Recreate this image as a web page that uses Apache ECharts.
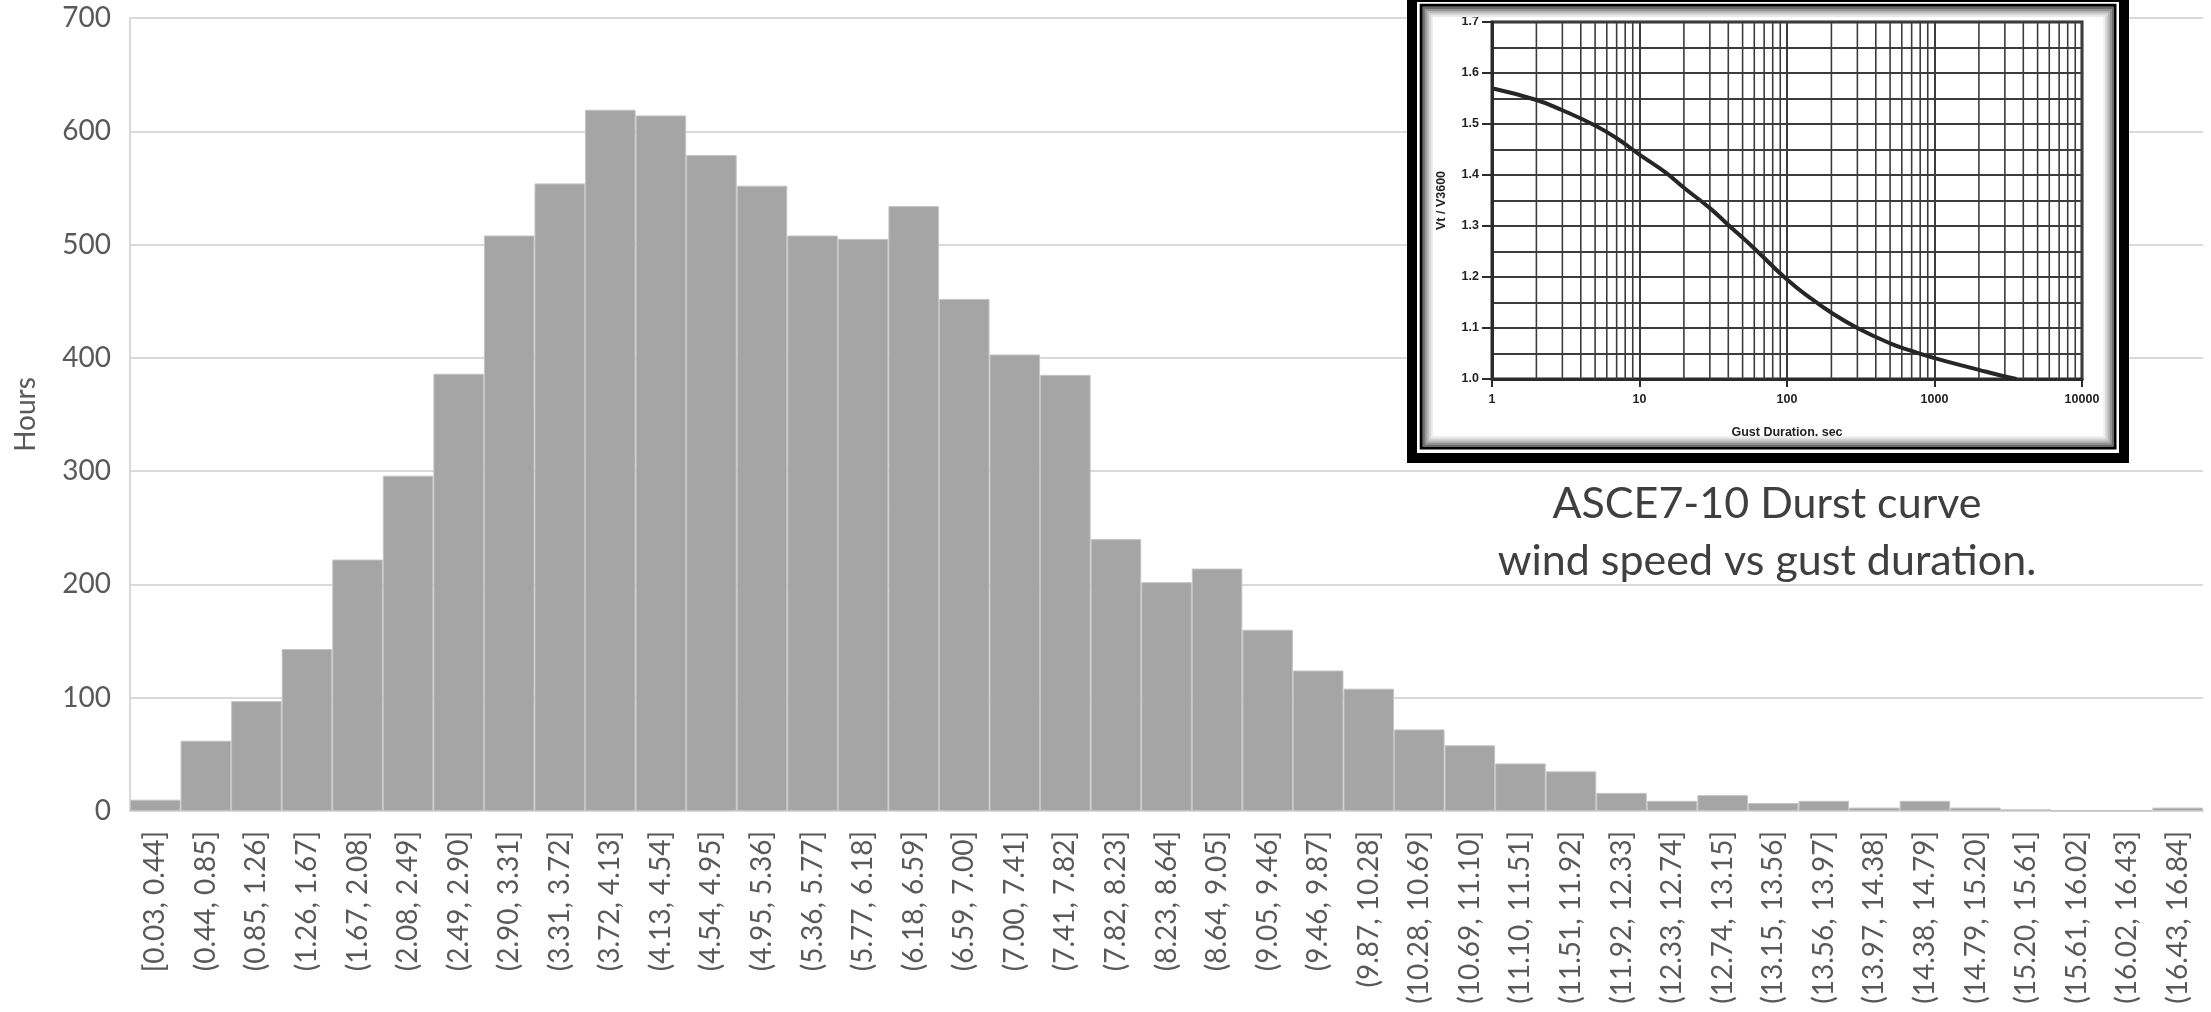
<!DOCTYPE html>
<html>
<head>
<meta charset="utf-8">
<script src="https://cdn.jsdelivr.net/npm/echarts@6/dist/echarts.min.js"></script>
<style>
html,body{margin:0;padding:0;background:#fff;}
#chart{width:2211px;height:1012px;}
</style>
</head>
<body>
<div id="chart"></div>
<script>
// ---- main histogram data ----
const categories = [
  '[0.03, 0.44]','(0.44, 0.85]','(0.85, 1.26]','(1.26, 1.67]','(1.67, 2.08]','(2.08, 2.49]',
  '(2.49, 2.90]','(2.90, 3.31]','(3.31, 3.72]','(3.72, 4.13]','(4.13, 4.54]','(4.54, 4.95]',
  '(4.95, 5.36]','(5.36, 5.77]','(5.77, 6.18]','(6.18, 6.59]','(6.59, 7.00]','(7.00, 7.41]',
  '(7.41, 7.82]','(7.82, 8.23]','(8.23, 8.64]','(8.64, 9.05]','(9.05, 9.46]','(9.46, 9.87]',
  '(9.87, 10.28]','(10.28, 10.69]','(10.69, 11.10]','(11.10, 11.51]','(11.51, 11.92]','(11.92, 12.33]',
  '(12.33, 12.74]','(12.74, 13.15]','(13.15, 13.56]','(13.56, 13.97]','(13.97, 14.38]','(14.38, 14.79]',
  '(14.79, 15.20]','(15.20, 15.61]','(15.61, 16.02]','(16.02, 16.43]','(16.43, 16.84]'
];
const hours = [
  10, 62, 97, 143, 222, 296, 386, 508, 554, 619, 614, 579,
  552, 508, 505, 534, 452, 403, 385, 240, 202, 214, 160, 124,
  108, 72, 58, 42, 35, 16, 9, 14, 7, 9, 3, 9,
  3, 1.5, 0.4, 0.4, 3
];
const hourTicks = [0, 100, 200, 300, 400, 500, 600, 700];

// ---- inset (Durst curve) data ----
const gustSeconds = [1, 2, 3, 5, 7, 10, 15, 20, 30, 40, 60, 100, 150, 200, 300, 500, 700, 1000, 2000, 3000, 3600];
const speedRatio  = [1.570, 1.547, 1.527, 1.497, 1.472, 1.440, 1.405, 1.375, 1.335, 1.302, 1.256, 1.195, 1.155, 1.130, 1.100, 1.070, 1.055, 1.041, 1.018, 1.005, 1.000];
const gustTicks = [1, 10, 100, 1000, 10000];
const ratioTicks = [1.0, 1.1, 1.2, 1.3, 1.4, 1.5, 1.6, 1.7];
const gustMinorLines = [
  2,3,4,5,6,7,8,9,
  20,30,40,50,60,70,80,90,
  200,300,400,500,600,700,800,900,
  2000,3000,4000,5000,6000,7000,8000,9000
];

const GRAY_TXT = '#595959';
const GRID_C = '#d9d9d9';
const INK = '#2b2b2b';
const insetFont = 'Liberation Sans';

const chart = echarts.init(document.getElementById('chart'), null, {renderer: 'canvas'});

// vertical minor grid segments of the inset, broken by empty points
const minorSegs = [];
gustMinorLines.forEach(v => {
  minorSegs.push([v, ratioTicks[0]], [v, ratioTicks[ratioTicks.length - 1]], [v, null]);
});

// frame geometry (decoration)
const fx0 = 1407, fx1 = 2129, fy0 = -8, fy1 = 463;
const shade = ['#6a6a6a', '#939393', '#b5b5b5', '#d2d2d2', '#ebebeb'];
const graphics = [
  {type: 'rect', z: 5, shape: {x: fx0, y: 0, width: fx1 - fx0, height: fy1}, style: {fill: '#fff'}},
  {type: 'rect', z: 30, shape: {x: fx0 + 5, y: fy0 + 5, width: fx1 - fx0 - 10, height: fy1 - fy0 - 10}, style: {fill: 'none', stroke: '#000', lineWidth: 10}},
  {type: 'rect', z: 30, shape: {x: 1421.2, y: 5.3, width: 2115 - 1421.2, height: 448 - 5.3}, style: {fill: 'none', stroke: '#000', lineWidth: 3}}
];
shade.forEach((c, i) => {
  const o = 1.7 + i * 2 + 1;
  graphics.push({type: 'rect', z: 29, shape: {x: 1421.2 + o, y: 5.3 + o, width: 2115 - 1421.2 - 2 * o, height: 448 - 5.3 - 2 * o}, style: {fill: 'none', stroke: c, lineWidth: 2}});
});
graphics.push({
  type: 'text', z: 30, x: 1767, y: 476,
  style: {
    text: 'ASCE7-10 Durst curve\nwind speed vs gust duration.',
    fontFamily: 'Lato', fontSize: 43, lineHeight: 57,
    fill: '#3f3f3f', align: 'center', verticalAlign: 'top'
  }
});

const option = {
  animation: false,
  backgroundColor: '#ffffff',
  graphic: graphics,
  grid: [
    {left: 130, right: 8, top: 18, bottom: 201, containLabel: false},
    {left: 1492, right: 129, top: 22, bottom: 633, containLabel: false, show: true,
     backgroundColor: '#ffffff', borderColor: INK, borderWidth: 3, z: 10}
  ],
  xAxis: [
    {
      type: 'category', gridIndex: 0, data: categories, boundaryGap: true,
      axisLine: {show: true, lineStyle: {color: GRID_C, width: 2}},
      axisTick: {show: false},
      axisLabel: {interval: 0, rotate: 90, margin: 20, color: GRAY_TXT, fontFamily: 'Lato', fontSize: 28},
      splitLine: {show: false}
    },
    {
      type: 'log', gridIndex: 1, logBase: 10, min: gustTicks[0], max: gustTicks[gustTicks.length - 1], z: 10,
      axisLine: {show: true, lineStyle: {color: INK, width: 3}},
      axisTick: {show: true, length: 8, lineStyle: {color: INK, width: 2}},
      axisLabel: {margin: 14, color: '#222', fontFamily: insetFont, fontWeight: 'bold', fontSize: 12.5,
                  formatter: v => String(Math.round(v))},
      splitLine: {show: true, lineStyle: {color: '#3c3c3c', width: 2}},
      name: 'Gust Duration, sec', nameLocation: 'middle', nameGap: 47,
      nameTextStyle: {color: '#222', fontFamily: insetFont, fontWeight: 'bold', fontSize: 12.5}
    }
  ],
  yAxis: [
    {
      type: 'value', gridIndex: 0, min: hourTicks[0], max: hourTicks[hourTicks.length - 1], interval: 100,
      axisLine: {show: true, lineStyle: {color: GRID_C, width: 2}},
      axisTick: {show: false},
      axisLabel: {margin: 19, color: GRAY_TXT, fontFamily: 'Lato', fontSize: 28},
      splitLine: {show: true, lineStyle: {color: GRID_C, width: 2}},
      name: 'Hours', nameLocation: 'middle', nameGap: 90,
      nameTextStyle: {color: GRAY_TXT, fontFamily: 'Lato', fontSize: 28}
    },
    {
      type: 'value', gridIndex: 1, min: ratioTicks[0], max: ratioTicks[ratioTicks.length - 1], interval: 0.1, z: 10,
      axisLine: {show: true, lineStyle: {color: INK, width: 3}},
      axisTick: {show: true, length: 10, lineStyle: {color: INK, width: 2}},
      axisLabel: {margin: 13, color: '#222', fontFamily: insetFont, fontWeight: 'bold', fontSize: 12.5,
                  formatter: v => v.toFixed(1)},
      splitLine: {show: true, lineStyle: {color: '#3c3c3c', width: 2}},
      minorTick: {show: false, splitNumber: 2},
      minorSplitLine: {show: true, lineStyle: {color: '#3c3c3c', width: 2}},
      name: 'Vt / V3600', nameLocation: 'middle', nameGap: 44,
      nameTextStyle: {color: '#222', fontFamily: insetFont, fontWeight: 'bold', fontSize: 12.5}
    }
  ],
  series: [
    {
      type: 'bar', xAxisIndex: 0, yAxisIndex: 0, data: hours,
      barCategoryGap: '0%', barGap: '0%',
      itemStyle: {color: '#a5a5a5', borderColor: '#c4c4c4', borderWidth: 1},
      silent: true, z: 2
    },
    {
      type: 'line', xAxisIndex: 1, yAxisIndex: 1, z: 11,
      data: minorSegs, connectNulls: false,
      showSymbol: false, silent: true,
      lineStyle: {color: '#3c3c3c', width: 1.6}
    },
    {
      type: 'line', xAxisIndex: 1, yAxisIndex: 1, z: 12,
      data: gustSeconds.map((t, i) => [t, speedRatio[i]]),
      smooth: true, showSymbol: false, silent: true,
      lineStyle: {color: '#262626', width: 4}
    }
  ]
};
chart.setOption(option);
</script>
</body>
</html>
